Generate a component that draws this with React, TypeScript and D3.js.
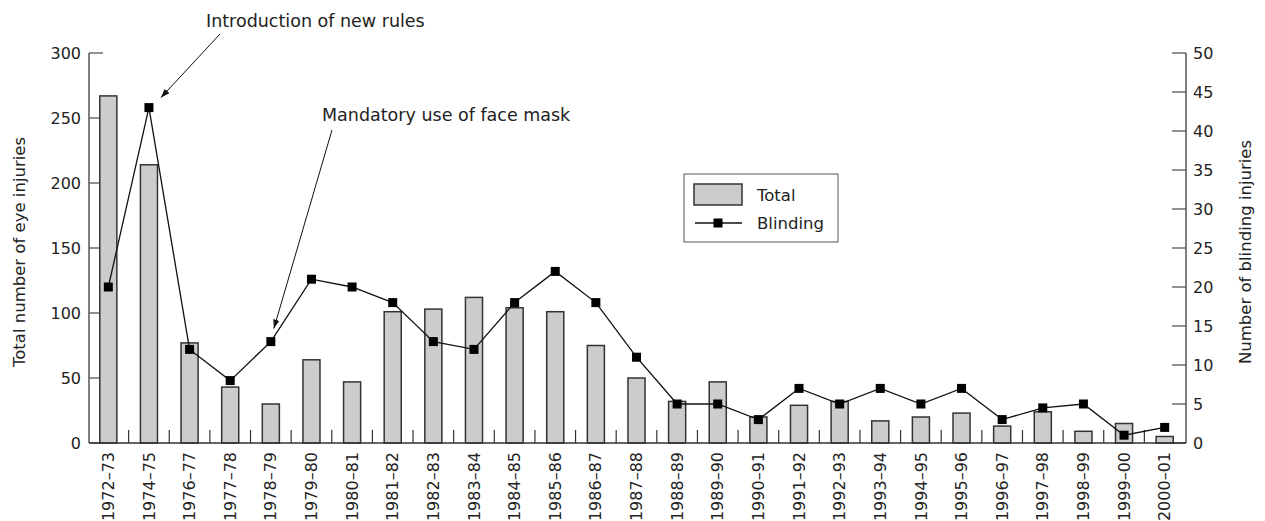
import * as d3 from "d3";

const categories = [
  "1972–73", "1974–75", "1976–77", "1977–78", "1978–79", "1979–80", "1980–81",
  "1981–82", "1982–83", "1983–84", "1984–85", "1985–86", "1986–87", "1987–88",
  "1988–89", "1989–90", "1990–91", "1991–92", "1992–93", "1993–94", "1994–95",
  "1995–96", "1996–97", "1997–98", "1998–99", "1999–00", "2000–01",
];

const totalInjuries = [
  267, 214, 77, 43, 30, 64, 47, 101, 103, 112, 104, 101, 75, 50,
  32, 47, 20, 29, 32, 17, 20, 23, 13, 24, 9, 15, 5,
];

const blindingInjuries = [
  20, 43, 12, 8, 13, 21, 20, 18, 13, 12, 18, 22, 18, 11,
  5, 5, 3, 7, 5, 7, 5, 7, 3, 4.5, 5, 1, 2,
];

const leftTicks = [0, 50, 100, 150, 200, 250, 300];
const rightTicks = [0, 5, 10, 15, 20, 25, 30, 35, 40, 45, 50];

const width = 1265;
const height = 521;
const margin = { top: 53, right: 79, bottom: 78, left: 89 };
const font = "'DejaVu Sans', sans-serif";

export default function App() {
  const plotLeft = margin.left;
  const plotRight = width - margin.right;
  const plotTop = margin.top;
  const plotBottom = height - margin.bottom;

  const x = d3
    .scaleBand()
    .domain(categories)
    .range([plotLeft - 1, plotRight - 1])
    .padding(0);

  const yLeft = d3.scaleLinear().domain([0, 300]).range([plotBottom, plotTop]);
  const yRight = d3.scaleLinear().domain([0, 50]).range([plotBottom, plotTop]);

  const barWidth = x.bandwidth() * 0.42;
  const cx = (c: string) => (x(c) ?? 0) + x.bandwidth() / 2;

  const line = d3
    .line<number>()
    .x((_, i) => cx(categories[i]))
    .y((d) => yRight(d));

  const markerSize = 9;

  const rulesPoint = { x: cx(categories[1]), y: yRight(blindingInjuries[1]) };
  const maskPoint = { x: cx(categories[4]), y: yRight(blindingInjuries[4]) };

  return (
    <svg
      width={width}
      height={height}
      style={{ position: "absolute", left: 0, top: 0, background: "#fff" }}
      fontFamily={font}
    >
      <defs>
        <marker
          id="arrow"
          viewBox="0 0 10 10"
          refX="10"
          refY="5"
          markerWidth="9"
          markerHeight="9"
          markerUnits="userSpaceOnUse"
          orient="auto"
        >
          <path d="M0,1.5 L10,5 L0,8.5 z" fill="#111" />
        </marker>
      </defs>

      {/* axis ticks (inward) */}
      {leftTicks.map((t) => (
        <g key={"l" + t}>
          <line x1={plotLeft} x2={plotLeft + 14} y1={yLeft(t)} y2={yLeft(t)} stroke="#555" strokeWidth={1.3} />
          <text x={plotLeft - 8} y={yLeft(t)} dy="0.35em" textAnchor="end" fontSize={16} fill="#222">
            {t}
          </text>
        </g>
      ))}
      {rightTicks.map((t) => (
        <g key={"r" + t}>
          <line x1={plotRight - 14} x2={plotRight} y1={yRight(t)} y2={yRight(t)} stroke="#555" strokeWidth={1.3} />
          <text x={plotRight + 7} y={yRight(t)} dy="0.35em" textAnchor="start" fontSize={16} fill="#222">
            {t}
          </text>
        </g>
      ))}

      {/* category separators */}
      {categories.slice(1).map((c) => (
        <line
          key={"s" + c}
          x1={x(c)}
          x2={x(c)}
          y1={plotBottom}
          y2={plotBottom - 13}
          stroke="#333"
          strokeWidth={1.2}
        />
      ))}

      {/* bars */}
      {totalInjuries.map((v, i) => (
        <rect
          key={"b" + i}
          x={cx(categories[i]) - barWidth / 2}
          y={yLeft(v)}
          width={barWidth}
          height={plotBottom - yLeft(v)}
          fill="#cccccc"
          stroke="#333"
          strokeWidth={1.5}
        />
      ))}

      {/* axes lines */}
      <line x1={plotLeft} x2={plotLeft} y1={plotTop} y2={plotBottom} stroke="#555" strokeWidth={1.5} />
      <line x1={plotRight} x2={plotRight} y1={plotTop} y2={plotBottom} stroke="#555" strokeWidth={1.5} />
      <line x1={plotLeft} x2={plotRight} y1={plotBottom} y2={plotBottom} stroke="#333" strokeWidth={1.5} />

      {/* blinding line */}
      <path d={line(blindingInjuries) ?? ""} fill="none" stroke="#111" strokeWidth={1.3} />
      {blindingInjuries.map((v, i) => (
        <rect
          key={"m" + i}
          x={cx(categories[i]) - markerSize / 2}
          y={yRight(v) - markerSize / 2}
          width={markerSize}
          height={markerSize}
          fill="#000"
        />
      ))}

      {/* x labels */}
      {categories.map((c) => (
        <text
          key={"x" + c}
          transform={`translate(${cx(c)},${plotBottom + 9}) rotate(-90)`}
          dy="0.35em"
          textAnchor="end"
          fontSize={16}
          fill="#222"
        >
          {c}
        </text>
      ))}

      {/* axis titles */}
      <text
        transform={`translate(19,${(plotTop + plotBottom) / 2 + 4}) rotate(-90)`}
        dy="0.35em"
        textAnchor="middle"
        fontSize={16.5}
        fill="#222"
      >
        Total number of eye injuries
      </text>
      <text
        transform={`translate(1245,${(plotTop + plotBottom) / 2 + 4}) rotate(-90)`}
        dy="0.35em"
        textAnchor="middle"
        fontSize={16.5}
        fill="#222"
      >
        Number of blinding injuries
      </text>

      {/* annotations */}
      <text x={206} y={27} fontSize={17.5} fill="#222">
        Introduction of new rules
      </text>
      <line
        x1={220}
        y1={34}
        x2={rulesPoint.x + 12}
        y2={rulesPoint.y - 10}
        stroke="#111"
        strokeWidth={1}
        markerEnd="url(#arrow)"
      />
      <text x={322} y={121} fontSize={17.5} fill="#222">
        Mandatory use of face mask
      </text>
      <line
        x1={332}
        y1={130}
        x2={maskPoint.x + 3}
        y2={maskPoint.y - 13}
        stroke="#111"
        strokeWidth={1}
        markerEnd="url(#arrow)"
      />

      {/* legend */}
      <rect x={684} y={174} width={154} height={68} fill="#fff" stroke="#555" strokeWidth={1} />
      <rect x={694} y={184} width={48} height={21} fill="#cccccc" stroke="#333" strokeWidth={1.5} />
      <text x={757} y={195} dy="0.35em" fontSize={16.5} fill="#222">
        Total
      </text>
      <line x1={695} x2={742} y1={223} y2={223} stroke="#111" strokeWidth={1.3} />
      <rect x={718 - markerSize / 2} y={223 - markerSize / 2} width={markerSize} height={markerSize} fill="#000" />
      <text x={757} y={223} dy="0.35em" fontSize={16.5} fill="#222">
        Blinding
      </text>
    </svg>
  );
}
